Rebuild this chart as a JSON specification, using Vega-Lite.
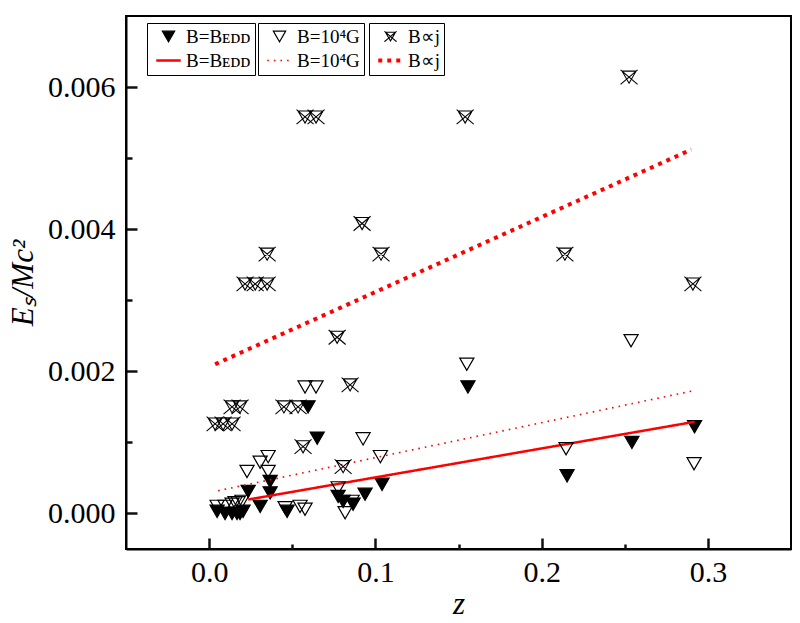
{
  "$schema": "https://vega.github.io/schema/vega-lite/v6.json",
  "autosize": "none",
  "width": 665,
  "height": 533,
  "padding": {"left": 126, "top": 16, "right": 9, "bottom": 74},
  "background": "white",
  "config": {
    "view": {"stroke": "black", "strokeWidth": 2},
    "font": "Liberation Serif",
    "axis": {
      "grid": false,
      "ticks": true,
      "zindex": 1,
      "domainColor": "black",
      "domainWidth": 2,
      "tickColor": "#111111",
      "tickWidth": 2.5,
      "tickSize": -11,
      "labelFont": "Liberation Serif",
      "labelFontSize": 30,
      "labelColor": "black",
      "titleFont": "Liberation Serif",
      "titleFontSize": 31,
      "titleFontStyle": "italic",
      "titleFontWeight": "normal",
      "titleColor": "black"
    },
    "legend": {
      "orient": "none",
      "direction": "vertical",
      "legendY": 7,
      "title": null,
      "strokeColor": "black",
      "padding": 4,
      "rowPadding": 4,
      "symbolOffset": 8,
      "labelOffset": 8,
      "symbolSize": 150,
      "labelFont": "Liberation Serif",
      "labelFontSize": 19,
      "labelColor": "black"
    }
  },
  "datasets": {
    "bedd": [
      {"z": 0.0048, "E": 0.00003, "kind": "pt"},
      {"z": 0.0096, "E": 0.0, "kind": "pt"},
      {"z": 0.0138, "E": 0.0, "kind": "pt"},
      {"z": 0.0168, "E": 0.0, "kind": "pt"},
      {"z": 0.0186, "E": 0.0, "kind": "pt"},
      {"z": 0.0204, "E": 0.00003, "kind": "pt"},
      {"z": 0.0235, "E": 0.00031, "kind": "pt"},
      {"z": 0.0307, "E": 0.0001, "kind": "pt"},
      {"z": 0.0367, "E": 0.00045, "kind": "pt"},
      {"z": 0.0367, "E": 0.00029, "kind": "pt"},
      {"z": 0.0469, "E": 0.00003, "kind": "pt"},
      {"z": 0.0595, "E": 0.0015, "kind": "pt"},
      {"z": 0.065, "E": 0.00106, "kind": "pt"},
      {"z": 0.0776, "E": 0.00024, "kind": "pt"},
      {"z": 0.0806, "E": 0.00017, "kind": "pt"},
      {"z": 0.0866, "E": 0.00013, "kind": "pt"},
      {"z": 0.0938, "E": 0.00027, "kind": "pt"},
      {"z": 0.104, "E": 0.00041, "kind": "pt"},
      {"z": 0.1557, "E": 0.00178, "kind": "pt"},
      {"z": 0.2153, "E": 0.00053, "kind": "pt"},
      {"z": 0.2543, "E": 0.001, "kind": "pt"},
      {"z": 0.292, "E": 0.00122, "kind": "pt"},
      {"z": 0.0235, "E": 0.000196, "kind": "ln"},
      {"z": 0.292, "E": 0.00129, "kind": "ln"}
    ],
    "b4": [
      {"z": 0.0048, "E": 0.0001, "kind": "pt"},
      {"z": 0.0096, "E": 0.0001, "kind": "pt"},
      {"z": 0.0138, "E": 0.00013, "kind": "pt"},
      {"z": 0.0156, "E": 0.00015, "kind": "pt"},
      {"z": 0.0174, "E": 0.00015, "kind": "pt"},
      {"z": 0.0198, "E": 0.00017, "kind": "pt"},
      {"z": 0.0228, "E": 0.00059, "kind": "pt"},
      {"z": 0.0307, "E": 0.00072, "kind": "pt"},
      {"z": 0.0355, "E": 0.0008, "kind": "pt"},
      {"z": 0.0355, "E": 0.00059, "kind": "pt"},
      {"z": 0.0457, "E": 0.00008, "kind": "pt"},
      {"z": 0.0547, "E": 0.0001, "kind": "pt"},
      {"z": 0.0577, "E": 0.00006, "kind": "pt"},
      {"z": 0.0577, "E": 0.00178, "kind": "pt"},
      {"z": 0.0643, "E": 0.00178, "kind": "pt"},
      {"z": 0.0776, "E": 0.00036, "kind": "pt"},
      {"z": 0.0818, "E": 0.00001, "kind": "pt"},
      {"z": 0.086, "E": 0.00017, "kind": "pt"},
      {"z": 0.0926, "E": 0.00105, "kind": "pt"},
      {"z": 0.103, "E": 0.0008, "kind": "pt"},
      {"z": 0.155, "E": 0.0021, "kind": "pt"},
      {"z": 0.2147, "E": 0.00091, "kind": "pt"},
      {"z": 0.2538, "E": 0.00243, "kind": "pt"},
      {"z": 0.2917, "E": 0.0007, "kind": "pt"},
      {"z": 0.0054, "E": 0.00032, "kind": "ln"},
      {"z": 0.292, "E": 0.00173, "kind": "ln"}
    ],
    "bj": [
      {"z": 0.0036, "E": 0.00126, "kind": "pt"},
      {"z": 0.0084, "E": 0.00126, "kind": "pt"},
      {"z": 0.0138, "E": 0.00126, "kind": "pt"},
      {"z": 0.0138, "E": 0.0015, "kind": "pt"},
      {"z": 0.0186, "E": 0.0015, "kind": "pt"},
      {"z": 0.0216, "E": 0.00323, "kind": "pt"},
      {"z": 0.0277, "E": 0.00323, "kind": "pt"},
      {"z": 0.0349, "E": 0.00323, "kind": "pt"},
      {"z": 0.0349, "E": 0.00365, "kind": "pt"},
      {"z": 0.045, "E": 0.0015, "kind": "pt"},
      {"z": 0.0535, "E": 0.0015, "kind": "pt"},
      {"z": 0.0565, "E": 0.00094, "kind": "pt"},
      {"z": 0.0577, "E": 0.00558, "kind": "pt"},
      {"z": 0.0643, "E": 0.00558, "kind": "pt"},
      {"z": 0.077, "E": 0.00248, "kind": "pt"},
      {"z": 0.0806, "E": 0.00066, "kind": "pt"},
      {"z": 0.0848, "E": 0.00181, "kind": "pt"},
      {"z": 0.092, "E": 0.00408, "kind": "pt"},
      {"z": 0.1034, "E": 0.00365, "kind": "pt"},
      {"z": 0.154, "E": 0.00558, "kind": "pt"},
      {"z": 0.214, "E": 0.00365, "kind": "pt"},
      {"z": 0.2526, "E": 0.00614, "kind": "pt"},
      {"z": 0.291, "E": 0.00323, "kind": "pt"},
      {"z": 0.0036, "E": 0.0021, "kind": "ln"},
      {"z": 0.29, "E": 0.00512, "kind": "ln"}
    ]
  },
  "encoding": {
    "x": {
      "field": "z",
      "type": "quantitative",
      "title": "z",
      "scale": {"domain": [-0.05, 0.35], "nice": false, "zero": false},
      "axis": {
        "values": [0, 0.1, 0.2, 0.3],
        "format": ".1f",
        "tickColor": "#111111",
        "tickWidth": 2.5,
        "labelPadding": 19,
        "titlePadding": 2
      }
    },
    "y": {
      "field": "E",
      "type": "quantitative",
      "title": "Eₛ/Mc²",
      "scale": {"domain": [-0.0005, 0.007], "nice": false, "zero": false},
      "axis": {
        "values": [0, 0.002, 0.004, 0.006],
        "format": ".3f",
        "tickColor": "#111111",
        "tickWidth": 2.5,
        "labelPadding": 22,
        "titlePadding": 8
      }
    }
  },
  "layer": [
    {
      "layer": [
        {
          "data": {"name": "bedd"},
          "layer": [
            {
              "transform": [{"filter": "datum.kind == 'pt'"}],
              "mark": {"type": "point", "size": 200, "opacity": 1},
              "encoding": {
                "shape": {"field": "kind", "type": "nominal", "scale": {"domain": ["pt", "ln"], "range": ["triangle-down", "M-2,0L2,0"]}, "legend": {"legendX": 21, "labelExpr": "'B=Bᴇᴅᴅ'"}},
                "fill": {"field": "kind", "type": "nominal", "scale": {"domain": ["pt", "ln"], "range": ["black", "transparent"]}, "legend": {"legendX": 21, "labelExpr": "'B=Bᴇᴅᴅ'"}},
                "stroke": {"field": "kind", "type": "nominal", "scale": {"domain": ["pt", "ln"], "range": ["black", "#ff0000"]}, "legend": {"legendX": 21, "labelExpr": "'B=Bᴇᴅᴅ'"}},
                "strokeWidth": {"field": "kind", "type": "nominal", "scale": {"type": "point", "domain": ["pt", "ln"], "range": [1.2, 2.5]}, "legend": {"legendX": 21, "labelExpr": "'B=Bᴇᴅᴅ'"}}
              }
            },
            {
              "transform": [{"filter": "datum.kind == 'ln'"}],
              "mark": {"type": "line"},
              "encoding": {
                "stroke": {"field": "kind", "type": "nominal", "scale": {"domain": ["pt", "ln"], "range": ["black", "#ff0000"]}, "legend": {"legendX": 21, "labelExpr": "'B=Bᴇᴅᴅ'"}},
                "strokeWidth": {"field": "kind", "type": "nominal", "scale": {"type": "point", "domain": ["pt", "ln"], "range": [1.2, 2.5]}, "legend": {"legendX": 21, "labelExpr": "'B=Bᴇᴅᴅ'"}},
                "strokeDash": {"field": "kind", "type": "nominal", "scale": {"domain": ["pt", "ln"], "range": [[1, 0], [1, 0]]}, "legend": {"legendX": 21, "labelExpr": "'B=Bᴇᴅᴅ'"}}
              }
            }
          ]
        },
        {
          "data": {"name": "b4"},
          "layer": [
            {
              "transform": [{"filter": "datum.kind == 'pt'"}],
              "mark": {"type": "point", "size": 200, "opacity": 1},
              "encoding": {
                "shape": {"field": "kind", "type": "nominal", "scale": {"domain": ["pt", "ln"], "range": ["triangle-down", "M-2,0L2,0"]}, "legend": {"legendX": 132, "labelExpr": "'B=10⁴G'"}},
                "fill": {"field": "kind", "type": "nominal", "scale": {"domain": ["pt", "ln"], "range": ["transparent", "transparent"]}, "legend": {"legendX": 132, "labelExpr": "'B=10⁴G'"}},
                "stroke": {"field": "kind", "type": "nominal", "scale": {"domain": ["pt", "ln"], "range": ["black", "#ff0000"]}, "legend": {"legendX": 132, "labelExpr": "'B=10⁴G'"}},
                "strokeWidth": {"field": "kind", "type": "nominal", "scale": {"type": "point", "domain": ["pt", "ln"], "range": [1.2, 1.6]}, "legend": {"legendX": 132, "labelExpr": "'B=10⁴G'"}}
              }
            },
            {
              "transform": [{"filter": "datum.kind == 'ln'"}],
              "mark": {"type": "line"},
              "encoding": {
                "stroke": {"field": "kind", "type": "nominal", "scale": {"domain": ["pt", "ln"], "range": ["black", "#ff0000"]}, "legend": {"legendX": 132, "labelExpr": "'B=10⁴G'"}},
                "strokeWidth": {"field": "kind", "type": "nominal", "scale": {"type": "point", "domain": ["pt", "ln"], "range": [1.2, 1.6]}, "legend": {"legendX": 132, "labelExpr": "'B=10⁴G'"}},
                "strokeDash": {"field": "kind", "type": "nominal", "scale": {"domain": ["pt", "ln"], "range": [[1, 0], [1.6, 5]]}, "legend": {"legendX": 132, "labelExpr": "'B=10⁴G'"}}
              }
            }
          ]
        },
        {
          "data": {"name": "bj"},
          "layer": [
            {
              "transform": [{"filter": "datum.kind == 'pt'"}],
              "mark": {"type": "point", "size": 290, "opacity": 1},
              "encoding": {
                "shape": {"field": "kind", "type": "nominal", "scale": {"domain": ["pt", "ln"], "range": ["M-1,-0.85L1,0.85M1,-0.85L-1,0.85M-0.82,-0.7L0.82,-0.7L0,0.72Z", "M-2,0L2,0"]}, "legend": {"legendX": 243, "labelExpr": "'B∝j'"}},
                "fill": {"field": "kind", "type": "nominal", "scale": {"domain": ["pt", "ln"], "range": ["transparent", "transparent"]}, "legend": {"legendX": 243, "labelExpr": "'B∝j'"}},
                "stroke": {"field": "kind", "type": "nominal", "scale": {"domain": ["pt", "ln"], "range": ["black", "#ff0000"]}, "legend": {"legendX": 243, "labelExpr": "'B∝j'"}},
                "strokeWidth": {"field": "kind", "type": "nominal", "scale": {"type": "point", "domain": ["pt", "ln"], "range": [1.1, 4]}, "legend": {"legendX": 243, "labelExpr": "'B∝j'"}}
              }
            },
            {
              "transform": [{"filter": "datum.kind == 'ln'"}],
              "mark": {"type": "line"},
              "encoding": {
                "stroke": {"field": "kind", "type": "nominal", "scale": {"domain": ["pt", "ln"], "range": ["black", "#ff0000"]}, "legend": {"legendX": 243, "labelExpr": "'B∝j'"}},
                "strokeWidth": {"field": "kind", "type": "nominal", "scale": {"type": "point", "domain": ["pt", "ln"], "range": [1.1, 4]}, "legend": {"legendX": 243, "labelExpr": "'B∝j'"}},
                "strokeDash": {"field": "kind", "type": "nominal", "scale": {"domain": ["pt", "ln"], "range": [[1, 0], [4, 5]]}, "legend": {"legendX": 243, "labelExpr": "'B∝j'"}}
              }
            }
          ]
        }
      ],
      "resolve": {
        "scale": {"shape": "independent", "fill": "independent", "stroke": "independent", "strokeWidth": "independent", "strokeDash": "independent"},
        "legend": {"shape": "independent", "fill": "independent", "stroke": "independent", "strokeWidth": "independent", "strokeDash": "independent"}
      }
    },
    {
      "data": {"name": "bedd"},
      "mark": {"type": "point", "opacity": 0},
      "encoding": {
        "x": {
          "field": "z",
          "type": "quantitative",
          "scale": {"domain": [-0.05, 0.35], "nice": false, "zero": false},
          "axis": {"orient": "bottom", "values": [0.05, 0.15, 0.25], "tickSize": -5, "labels": false, "domain": false, "title": null}
        },
        "y": {
          "field": "E",
          "type": "quantitative",
          "scale": {"domain": [-0.0005, 0.007], "nice": false, "zero": false},
          "axis": {"orient": "left", "values": [0.001, 0.003, 0.005], "tickSize": -6, "labels": false, "domain": false, "title": null}
        }
      }
    }
  ],
  "resolve": {"axis": {"x": "independent", "y": "independent"}}
}
